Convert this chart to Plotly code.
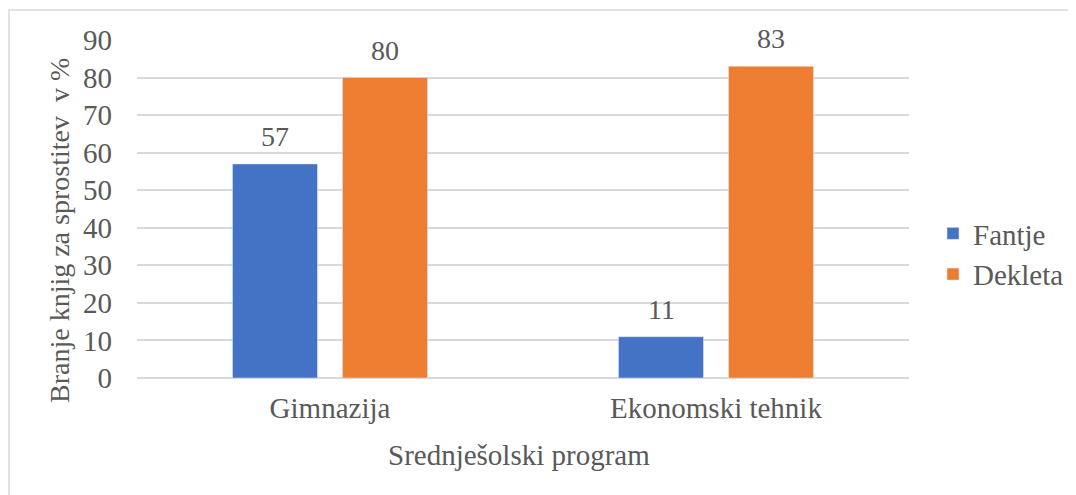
import plotly.graph_objects as go

categories = ["Gimnazija", "Ekonomski tehnik"]
fantje = [57, 11]
dekleta = [80, 83]
series_names = ["Fantje", "Dekleta"]
y_ticks = [0, 10, 20, 30, 40, 50, 60, 70, 80, 90]

FONT = "'Liberation Serif', 'Times New Roman', serif"
GRAY = "#595959"
OFF = 8  # page offset of the figure in the browser
W, H = 1076, 495
pw, ph = 772, 338
L, T = 137 - OFF, 40 - OFF
R, B = W - L - pw, H - T - ph

def px_x(x):
    return (x - OFF - L) / pw

def px_y(y):
    return (T + ph - (y - OFF)) / ph

fig = go.Figure()
fig.add_bar(x=categories, y=fantje, name=series_names[0], marker_color="#4472C4")
fig.add_bar(x=categories, y=dekleta, name=series_names[1], marker_color="#ED7D31")

# data labels above each bar (group offset in category units)
label_offsets = [-0.1425, 0.1425]
annotations = []
for vals, off in zip([fantje, dekleta], label_offsets):
    for i, v in enumerate(vals):
        annotations.append(dict(x=i + off, y=v, xref="x", yref="y", text=str(v),
                                showarrow=False, yanchor="bottom", yshift=10,
                                font=dict(family=FONT, size=28, color=GRAY)))

annotations += [
    dict(text="Branje knjig za sprostitev  v %", textangle=-90, xref="paper", yref="paper",
         x=px_x(59), y=px_y(231), xanchor="center", yanchor="middle", showarrow=False,
         font=dict(family=FONT, size=28, color=GRAY)),
    dict(text="Srednješolski program", xref="paper", yref="paper",
         x=px_x(519), y=px_y(455), xanchor="center", yanchor="middle", showarrow=False,
         font=dict(family=FONT, size=29, color=GRAY)),
]

fig.update_layout(
    width=W, height=H,
    margin=dict(l=L, r=R, t=T, b=B),
    plot_bgcolor="white", paper_bgcolor="white",
    barmode="group", bargap=0.43, bargroupgap=0.227,
    font=dict(family=FONT, size=28, color=GRAY),
    showlegend=True,
    legend=dict(x=px_x(933), y=px_y(254), xanchor="left", yanchor="middle",
                font=dict(family=FONT, size=29, color=GRAY),
                bgcolor="rgba(0,0,0,0)", tracegroupgap=2),
    xaxis=dict(showgrid=False, showline=False, ticks="", ticklabelstandoff=10,
               tickfont=dict(family=FONT, size=29, color=GRAY)),
    yaxis=dict(range=[0, 90], tickvals=y_ticks, showgrid=True, gridcolor="#d9d9d9",
               gridwidth=1.5, zeroline=True, zerolinecolor="#d9d9d9", zerolinewidth=1.5,
               showline=False, ticks="", ticklabelstandoff=24,
               tickfont=dict(family=FONT, size=29, color=GRAY)),
    shapes=[dict(type="rect", xref="paper", yref="paper",
                 x0=px_x(9), x1=px_x(1085), y0=px_y(10), y1=px_y(510),
                 line=dict(color="#d9d9d9", width=1.5), fillcolor="rgba(0,0,0,0)",
                 layer="below")],
    annotations=annotations,
)

fig.write_html("out.html")
